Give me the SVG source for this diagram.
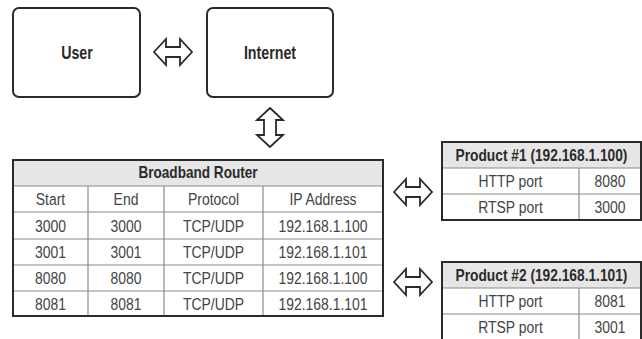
<svg xmlns="http://www.w3.org/2000/svg" width="642" height="339" viewBox="0 0 642 339">
<style>
.box{fill:#fff;stroke:#2a2a2a;stroke-width:2}
.arr{fill:#fff;stroke:#2a2a2a;stroke-width:1.8;stroke-linejoin:miter}
.outer{fill:none;stroke:#2a2a2a;stroke-width:2}
.hdr{fill:#e6e6e6}
.grid{stroke:#8a8a8a;stroke-width:1.2;fill:none}
.t{font-family:"Liberation Sans",Arial,sans-serif;text-anchor:middle;dominant-baseline:central;fill:#444;font-size:17px}
.b{fill:#2a2a2a;font-weight:bold;font-size:16px}
.big{font-size:19px;fill:#2a2a2a;font-weight:bold}
</style>
<rect width="642" height="339" fill="#fff"/>
<g id="user"><rect class="box" x="13" y="8" width="127" height="89" rx="6"/><text class="t big" transform="translate(77,53) scale(0.75,1)">User</text></g>
<g id="internet"><rect class="box" x="207" y="8" width="126" height="89" rx="6"/><text class="t big" transform="translate(270,53) scale(0.75,1)">Internet</text></g>
<g id="router">
<rect class="hdr" x="13" y="160" width="370" height="26"/>
<path class="grid" d="M13,186H383M13,212H383M13,239H383M13,265H383M13,291H383M88,186V316M164,186V316M263,186V316"/>
<rect class="outer" x="13" y="160" width="370" height="156"/>
<text class="t b" transform="translate(198,173) scale(0.85,1)">Broadband Router</text>
<text class="t" transform="translate(50.5,199) scale(0.82,1)">Start</text><text class="t" transform="translate(126,199) scale(0.82,1)">End</text><text class="t" transform="translate(213.5,199) scale(0.82,1)">Protocol</text><text class="t" transform="translate(323,199) scale(0.82,1)">IP Address</text>
<text class="t" transform="translate(50.5,225.5) scale(0.82,1)">3000</text><text class="t" transform="translate(126,225.5) scale(0.82,1)">3000</text><text class="t" transform="translate(213.5,225.5) scale(0.82,1)">TCP/UDP</text><text class="t" transform="translate(323,225.5) scale(0.82,1)">192.168.1.100</text>
<text class="t" transform="translate(50.5,252) scale(0.82,1)">3001</text><text class="t" transform="translate(126,252) scale(0.82,1)">3001</text><text class="t" transform="translate(213.5,252) scale(0.82,1)">TCP/UDP</text><text class="t" transform="translate(323,252) scale(0.82,1)">192.168.1.101</text>
<text class="t" transform="translate(50.5,278) scale(0.82,1)">8080</text><text class="t" transform="translate(126,278) scale(0.82,1)">8080</text><text class="t" transform="translate(213.5,278) scale(0.82,1)">TCP/UDP</text><text class="t" transform="translate(323,278) scale(0.82,1)">192.168.1.100</text>
<text class="t" transform="translate(50.5,303.5) scale(0.82,1)">8081</text><text class="t" transform="translate(126,303.5) scale(0.82,1)">8081</text><text class="t" transform="translate(213.5,303.5) scale(0.82,1)">TCP/UDP</text><text class="t" transform="translate(323,303.5) scale(0.82,1)">192.168.1.101</text>
</g>
<g id="product1">
<rect class="hdr" x="442" y="142" width="199" height="26"/>
<path class="grid" d="M442,168H641M442,194H641M579,168V220"/>
<rect class="outer" x="442" y="142" width="199" height="78"/>
<text class="t b" transform="translate(541.5,155) scale(0.86,1)">Product #1 (192.168.1.100)</text>
<text class="t" transform="translate(510.5,181) scale(0.82,1)">HTTP port</text><text class="t" transform="translate(610,181) scale(0.82,1)">8080</text>
<text class="t" transform="translate(510.5,207) scale(0.82,1)">RTSP port</text><text class="t" transform="translate(610,207) scale(0.82,1)">3000</text>
</g>
<g id="product2">
<rect class="hdr" x="442" y="262" width="199" height="26"/>
<path class="grid" d="M442,288H641M442,314H641M579,288V340"/>
<rect class="outer" x="442" y="262" width="199" height="80"/>
<text class="t b" transform="translate(541.5,275) scale(0.86,1)">Product #2 (192.168.1.101)</text>
<text class="t" transform="translate(510.5,301) scale(0.82,1)">HTTP port</text><text class="t" transform="translate(610,301) scale(0.82,1)">8081</text>
<text class="t" transform="translate(510.5,327) scale(0.82,1)">RTSP port</text><text class="t" transform="translate(610,327) scale(0.82,1)">3001</text>
</g>
<g id="connectors">
<path class="arr" d="M154,52L166,39V47H180V39L192,52L180,65V57H166V65Z"/>
<path class="arr" d="M270,108L283,120H276V135H283L270,147L257,135H264V120H257Z"/>
<path class="arr" d="M394,192L406,179V187H420V179L432,192L420,205V197H406V205Z"/>
<path class="arr" d="M394,282L406,269V277H420V269L432,282L420,295V287H406V295Z"/>
</g>
</svg>
